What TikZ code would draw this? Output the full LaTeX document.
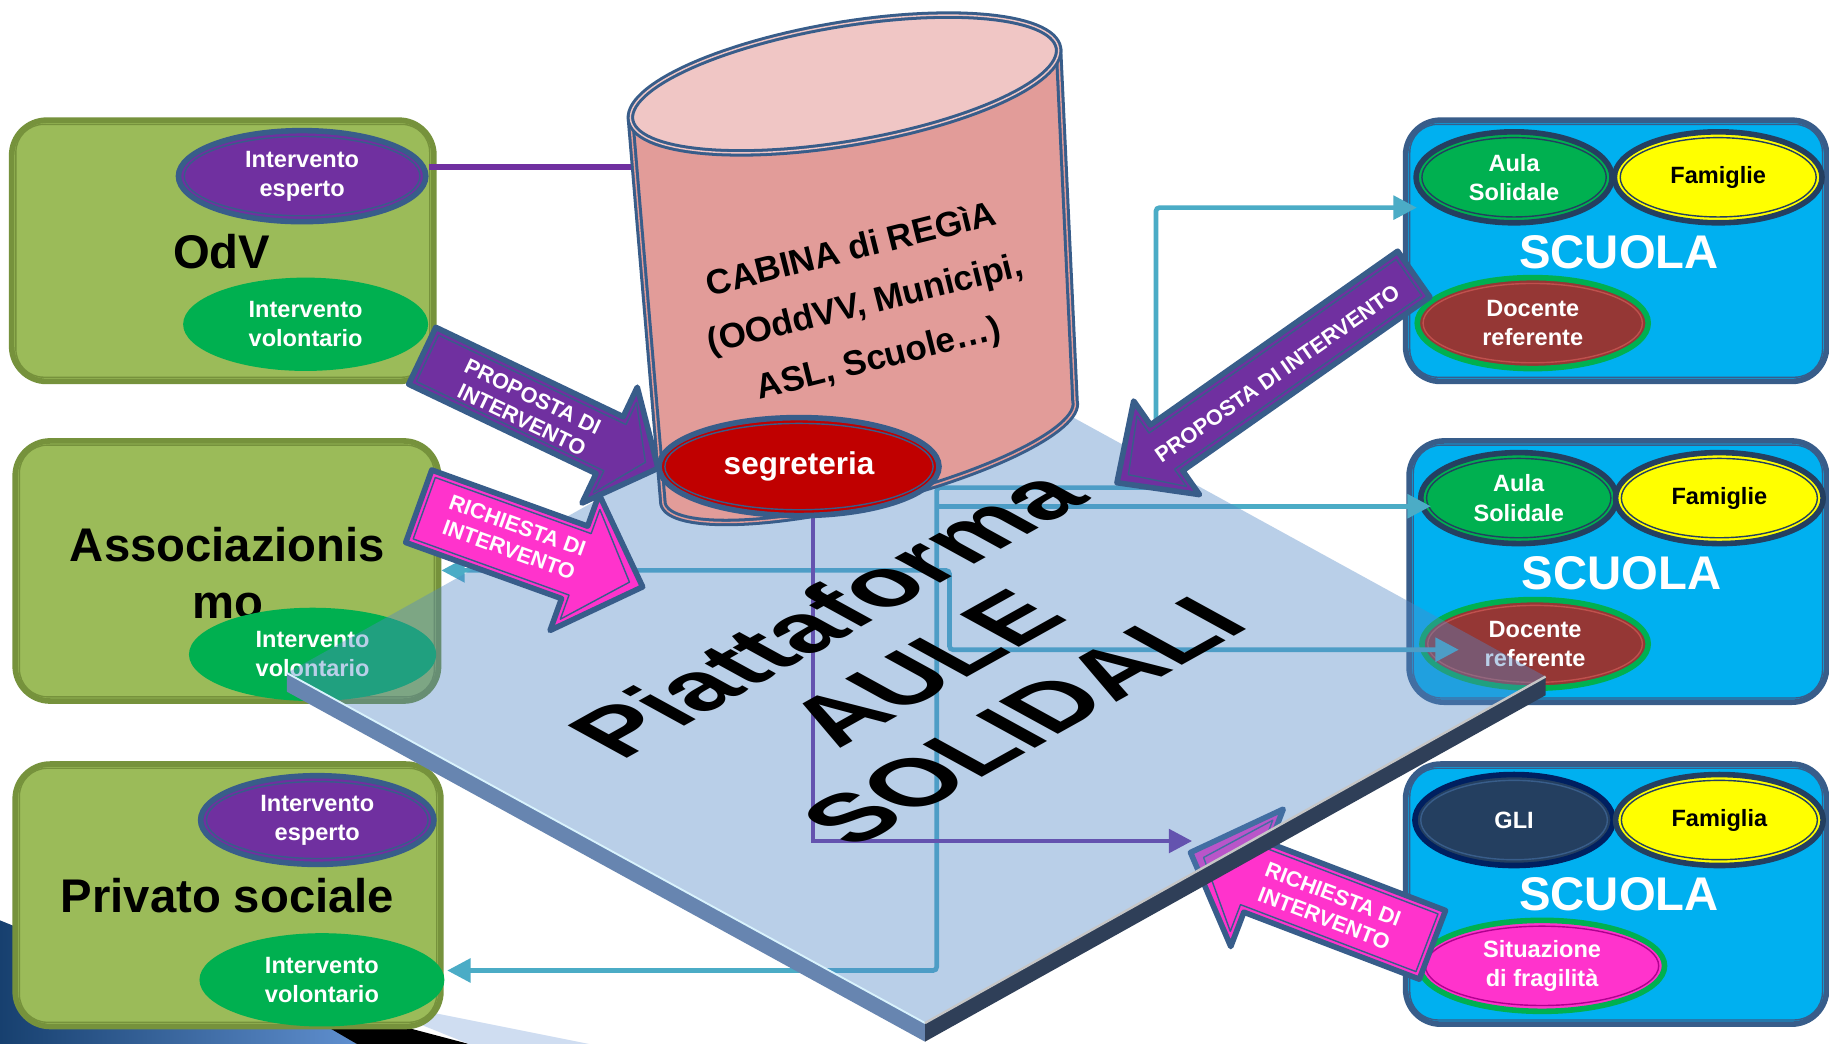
\documentclass[tikz,border=0pt]{standalone}
\usepackage{fontspec}
\setmainfont{Liberation Sans}
\usetikzlibrary{shapes.geometric,arrows.meta,fit,calc}

\definecolor{olv}{HTML}{9BBB59}
\definecolor{olvdk}{HTML}{76923C}
\definecolor{steel}{HTML}{385D8A}
\definecolor{purp}{HTML}{7030A0}
\definecolor{grn}{HTML}{00B050}
\definecolor{sky}{HTML}{00B0F0}
\definecolor{navy}{HTML}{243F60}
\definecolor{navydk}{HTML}{002060}
\definecolor{brick}{HTML}{953735}
\definecolor{brickln}{HTML}{C0504D}
\definecolor{pinkf}{HTML}{FF33CC}
\definecolor{pinkln}{HTML}{B0008F}
\definecolor{yel}{HTML}{FFFF00}
\definecolor{segred}{HTML}{C00000}
\definecolor{cylside}{HTML}{E29C99}
\definecolor{cyltop}{HTML}{F0C6C5}
\definecolor{linkc}{HTML}{4BACC6}
\definecolor{platc}{HTML}{5288C6}
\definecolor{platl}{HTML}{6785B0}
\definecolor{platr}{HTML}{2F3F58}
\definecolor{swdark}{HTML}{17406F}
\definecolor{swlight}{HTML}{5F8FCF}

\newcommand\lblfont{\fontsize{20.25}{24.5}\selectfont\bfseries}
\newcommand\ovalfont{\fontsize{10.1}{12.5}\selectfont\bfseries}
\newcommand\arrfont{\fontsize{9.3}{10.9}\selectfont\bfseries}
\newcommand\cylfont{\fontsize{15}{24}\selectfont\bfseries}
\newcommand\segfont{\fontsize{13.5}{16}\selectfont\bfseries}
\newcommand\platfont{\fontsize{42}{48}\selectfont\bfseries}

\pgfdeclarelayer{bg}
\pgfdeclarelayer{links}
\pgfdeclarelayer{plat}
\pgfsetlayers{bg,links,plat,main}

% rounded panel with a thin inner outline
\newcommand\panelbox[5]{%
  \node[panelshape, fit={(#2)(#3)}, fill=#4, draw=#5] (#1) {};
  \draw[#5, line width=0.6pt, rounded corners=12pt]
    ($(#1.north west)+(6,6)$) rectangle ($(#1.south east)+(-6,-6)$);
}
% oval: name, centre, rx, ry, node style, inner ring style, text
\newcommand\ovalnode[7]{%
  \node[ovalshape, minimum width=#3pt, minimum height=#4pt, #5] (#1) at (#2) {#7};
  \draw[line width=0.6pt, #6] (#1.center) ellipse [x radius={(#3-5)*0.5pt}, y radius={(#4-5)*0.5pt}];
}
% block arrow: tip name, tail centre, angle, length, half body, half head, head length, fill
\newcommand\blockarr[8]{%
  \begin{scope}[shift={(#2)}, rotate=#3]
    \draw[blockline, fill=#8] (0,-#5) -- ({#4-#7},-#5) -- ({#4-#7},-#6) -- (#4,0)
      -- ({#4-#7},#6) -- ({#4-#7},#5) -- (0,#5) -- cycle;
    \draw[steel, line width=0.6pt, line join=round] (5,{5-#5}) -- ({#4-#7+5},{5-#5})
      -- ({#4-#7+5},{12-#6}) -- ({#4-12},0) -- ({#4-#7+5},{#6-12})
      -- ({#4-#7+5},{#5-5}) -- (5,{#5-5}) -- cycle;
    \coordinate (#1) at (#4,0);
  \end{scope}%
}

\begin{document}
\begin{tikzpicture}[x=0.5pt, y=-0.5pt,
  panelshape/.style={rounded corners=15pt, line width=2.4pt, inner sep=0pt},
  ovalshape/.style={ellipse, inner sep=0pt, line width=2.4pt, align=center, font=\ovalfont, text=white},
  lbl/.style={font=\lblfont, align=center, inner sep=0pt},
  arrtxt/.style={font=\arrfont, align=center, text=white, inner sep=0pt},
  blockline/.style={draw=steel, line width=2.4pt, line join=round},
  linkcy/.style={draw=linkc, line width=2pt, rounded corners=1.5pt},
  plink/.style={draw=purp, line width=2pt},
  cylline/.style={draw=steel, line width=1.3pt, double=cyltop, double distance=0.6pt, line join=round},
  >={Triangle[length=10pt, width=10pt]}]
\useasboundingbox (0,0) rectangle (1568,895);

\begin{pgfonlayer}{bg}
  \fill[white] (0,0) rectangle (1568,895);
  % corner swoosh
  \shade[left color=swdark, right color=swlight]
    (0,789) .. controls (100,830) and (200,860) .. (280,878) -- (306,895) -- (0,895) -- cycle;
  \fill[black] (270,874) -- (330,876) -- (402,895) -- (306,895) -- cycle;
  \fill[swlight!30] (330,866) -- (370,868) -- (505,895) -- (402,895) -- cycle;

  % left panels
  \panelbox{odv}{10,103}{372,327}{olv}{olvdk}
  \ovalnode{esp1}{259,151}{106}{39}{fill=purp, draw=steel}{draw=steel}{Intervento\\esperto}
  \node[lbl] (odvl) at (190,216) {OdV};
  \ovalnode{vol1}{262,278}{105}{40}{fill=grn, draw=none}{draw=none}{Intervento\\volontario}

  \panelbox{ass}{13,378}{376,601}{olv}{olvdk}
  \node[lbl] (assl) at (195,491) {Associazionis\\mo};
  \ovalnode{vol2}{268,561}{106}{40}{fill=grn, draw=none}{draw=none}{Intervento\\volontario}

  \panelbox{priv}{13,655}{378,880}{olv}{olvdk}
  \ovalnode{esp3}{272,703}{100}{38}{fill=purp, draw=steel}{draw=steel}{Intervento\\esperto}
  \node[lbl] (privl) at (195,768) {Privato sociale};
  \ovalnode{vol3}{276,840}{105}{40}{fill=grn, draw=none}{draw=none}{Intervento\\volontario}

  % right panels
  \panelbox{s1}{1205,103}{1566,327}{sky}{steel}
  \ovalnode{as1}{1298,152}{84}{39}{fill=grn, draw=navy}{draw=navy}{Aula\\Solidale}
  \ovalnode{fam1}{1473,152}{89}{39}{fill=yel, draw=navy, text=black}{draw=navy}{Famiglie}
  \node[lbl, text=white] (sc1) at (1388,216) {SCUOLA};
  \ovalnode{dr1}{1314,277}{99}{39}{fill=brick, draw=grn}{draw=brickln}{Docente\\referente}

  \panelbox{s2}{1208,378}{1566,602}{sky}{steel}
  \ovalnode{as2}{1302,427}{84}{39}{fill=grn, draw=navy}{draw=navy}{Aula\\Solidale}
  \ovalnode{fam2}{1474,427}{89}{39}{fill=yel, draw=navy, text=black}{draw=navy}{Famiglie}
  \node[lbl, text=white] (sc2) at (1390,491) {SCUOLA};
  \ovalnode{dr2}{1316,552}{97}{38}{fill=brick, draw=grn}{draw=brickln}{Docente\\referente}

  \panelbox{s3}{1205,655}{1566,878}{sky}{steel}
  \ovalnode{gli}{1298,703}{85}{39}{fill=navy, draw=navydk}{draw=steel}{GLI}
  \ovalnode{fam3}{1474,703}{89}{39}{fill=yel, draw=navy, text=black}{draw=navy}{Famiglia}
  \node[lbl, text=white] (sc3) at (1388,767) {SCUOLA};
  \ovalnode{sit}{1322,828}{105}{39}{fill=pinkf, draw=grn}{draw=pinkln}{Situazione\\di fragilità}

  % request from the school with a fragile situation
  \blockarr{rq2}{1228,810}{159.1}{222}{31.5}{63}{61}{pinkf}
  \node[arrtxt, rotate=-21] (rq2t) at (1139,777) {RICHIESTA DI\\INTERVENTO};

  % expert link to the steering room
  \coordinate (cylW) at (546,143);
  \draw[purp, line width=2.5pt] ($(esp1.east)+(0,-8)$) -- (cylW);
\end{pgfonlayer}

% block arrows above the platform
\blockarr{pr1}{362,305}{-25.5}{224}{27}{55}{46}{purp}
\node[arrtxt, rotate=-25.5] (pr1t) at (452,350) {PROPOSTA DI\\INTERVENTO};
\blockarr{rq1}{359,434}{-19.8}{204}{33}{62}{62}{pinkf}
\node[arrtxt, rotate=-19.8] (rq1t) at (440,461) {RICHIESTA DI\\INTERVENTO};
\blockarr{pr2}{1212,235}{215.1}{311}{24}{49}{52}{purp}
\node[arrtxt, rotate=35] (pr2t) at (1095,320) {PROPOSTA DI INTERVENTO};

% steering room cylinder
\fill[cylside] (540.6,103)
  -- plot[domain=180:0, samples=60, variable=\t] ({745+176.6*cos(\t)+10.2*sin(\t)}, {388-44*cos(\t)+40.7*sin(\t)})
  -- (907.4,41)
  -- plot[domain=0:180, samples=60, variable=\t] ({724+183.4*cos(\t)+8.5*sin(\t)}, {72-31*cos(\t)+50.3*sin(\t)})
  -- cycle;
\draw[cylline, double=cylside] (540.6,103)
  -- plot[domain=180:0, samples=60, variable=\t] ({745+176.6*cos(\t)+10.2*sin(\t)}, {388-44*cos(\t)+40.7*sin(\t)})
  -- (907.4,41);
\filldraw[fill=cyltop, cylline]
  plot[domain=0:360, samples=120, variable=\t] ({724+183.4*cos(\t)+8.5*sin(\t)}, {72-31*cos(\t)+50.3*sin(\t)}) -- cycle;
\node[font=\cylfont, align=center, rotate=14] (cyl) at (742,262)
  {CABINA di REGìA\\(OOddVV, Municipi,\\ASL, Scuole…)};
\ovalnode{seg}{685,400}{120}{42}{fill=segred, draw=steel, font=\segfont}{draw=steel}{segreteria}

% connectors, drawn beneath the platform
\begin{pgfonlayer}{links}
  \coordinate (jA) at (803,418);
  \coordinate (jB) at (991,178);
  \coordinate (jC) at (803,434);
  \coordinate (jD) at (814,489);
  \coordinate (jE) at (814,557);
  \coordinate (pend) at (1022,721);
  \draw[linkcy, <->] ($(vol3.east)+(0,-8)$) -| (jA) -| (jB) -- ($(s1.west|-jB)+(12,0)$);
  \draw[linkcy, ->] (jC) -- ($(as2.west|-jC)+(11,0)$);
  \draw[linkcy, <->] (ass.east|-jD) -- (jD) -- (jE) -- ($(dr2.west|-jE)+(34,0)$);
  \draw[plink, ->] ($(seg.south)+(12,0)$) |- (pend);
\end{pgfonlayer}

% platform slab
\begin{pgfonlayer}{plat}
  \coordinate (pL) at (246,577);
  \coordinate (pB) at (793,877);
  \coordinate (pR) at (1325,580);
  \coordinate (pT) at ($(pL)+(pR)-(pB)$);
  \fill[platl] (pL) -- (pB) -- ($(pB)+(0,16)$) -- ($(pL)+(0,16)$) -- cycle;
  \fill[platr] (pB) -- (pR) -- ($(pR)+(0,16)$) -- ($(pB)+(0,16)$) -- cycle;
  \fill[platc, fill opacity=0.4] (pL) -- (pB) -- (pR) -- (pT) -- cycle;
  \draw[white!85!cyan, line width=0.8pt] (pL) -- (pB);
  \draw[gray!45, line width=1pt] (pB) -- (pR);
\end{pgfonlayer}

\begin{scope}[shift={(792,572)}, cm={0.873,0.487,-0.877,0.481,(0,0)}]
  \node[transform shape, font=\platfont, align=center, inner sep=0pt] (plattxt) at (0,0)
    {Piattaforma\\AULE\\SOLIDALI};
\end{scope}
\end{tikzpicture}
\end{document}
